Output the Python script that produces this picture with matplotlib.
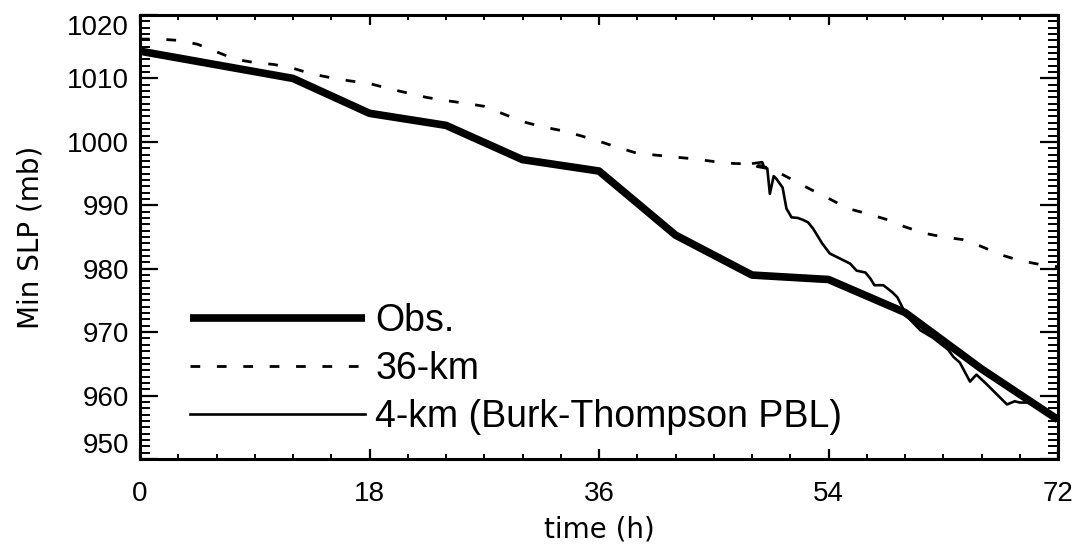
import matplotlib
matplotlib.use("Agg")
import matplotlib.pyplot as plt
from matplotlib.ticker import MultipleLocator

plt.rcParams['font.family'] = ['Liberation Sans', 'DejaVu Sans']

# Observed minimum SLP
obs_t = [0, 12, 18, 24, 30, 36, 42, 48, 54, 60, 66, 72]
obs_p = [1014.3, 1010.0, 1004.5, 1002.6, 997.2, 995.4, 985.3, 979.0, 978.3, 973.1, 964.2, 956.2]

# 36-km simulation
km36_t = [0, 1.5, 3, 4.5, 6, 7.5, 9, 10.5, 12, 13.5, 15, 16.5, 18, 19.5, 21, 22.5,
          24, 25.5, 27, 28.5, 30, 31.5, 33, 34.5, 36, 37.5, 39, 40.5, 42, 43.5,
          45, 46.5, 48, 49.5, 51, 52.5, 54, 55.5, 57, 58.5, 60, 61.5, 63, 64.5,
          66, 67.5, 69, 70.5, 72]
km36_p = [1016.2, 1016.2, 1016.0, 1015.4, 1014.2, 1013.0, 1012.5, 1012.2, 1011.6,
          1010.7, 1010.1, 1009.6, 1009.2, 1008.4, 1007.7, 1007.0, 1006.5, 1006.1,
          1005.6, 1004.4, 1003.2, 1002.4, 1001.8, 1001.0, 1000.1, 999.1, 998.2,
          997.9, 997.6, 997.3, 996.9, 996.6, 996.5, 995.8, 994.2, 992.6, 991.1,
          989.5, 988.7, 987.8, 986.6, 985.6, 985.0, 984.6, 983.5, 982.2, 981.3,
          980.7, 980.3]

# 4-km simulation (Burk-Thompson PBL)
km4_t = [48.1, 48.8, 48.9, 48.4, 49.2, 49.4, 49.7, 49.9, 50.4, 50.7, 51.1, 51.6,
         52.0, 52.4, 52.8, 53.5, 54.1, 54.9, 55.7, 56.2, 56.9, 57.3, 57.6, 58.3,
         59.0, 59.4, 59.8, 60.1, 61.2, 62.2, 63.4, 63.8, 64.3, 65.1, 65.6, 66.3,
         67.2, 68.0, 68.6, 69.0, 69.6, 70.4, 71.1, 72.0]
km4_p = [996.6, 996.8, 996.3, 996.1, 995.8, 991.8, 994.6, 994.2, 992.8, 989.5,
         988.1, 988.0, 987.7, 987.3, 986.3, 984.0, 982.4, 981.6, 980.8, 979.7,
         979.4, 978.4, 977.4, 977.4, 976.3, 975.5, 973.9, 972.6, 970.3, 969.1,
         967.2, 966.1, 965.2, 962.2, 963.3, 962.0, 960.2, 958.6, 959.1, 958.9,
         958.9, 958.3, 957.4, 956.4]

labels = ['Obs.', '36-km', '4-km (Burk-Thompson PBL)']
xticks = [0, 18, 36, 54, 72]
yticks = [950, 960, 970, 980, 990, 1000, 1010, 1020]

fig = plt.figure(figsize=(10.8, 5.5), dpi=100)
ax = fig.add_axes([140/1080, 1-459/550, 918/1080, 444/550])

ax.plot(obs_t, obs_p, color='black', lw=5.5, solid_capstyle='butt', label=labels[0])
ax.plot(km36_t, km36_p, color='black', lw=2.0, linestyle=(0, (3.5, 6)), label=labels[1])
ax.plot(km4_t, km4_p, color='black', lw=1.9, label=labels[2])

ax.set_xlim(0, 72)
ax.set_ylim(950, 1020)
ax.set_xticks(xticks)
ax.set_yticks(yticks)
ax.xaxis.set_minor_locator(MultipleLocator(3))
ax.yaxis.set_minor_locator(MultipleLocator(1))

for s in ax.spines.values():
    s.set_linewidth(2.2)

ax.tick_params(axis='x', which='major', direction='in', length=7, width=1.6,
               top=True, bottom=True, labelsize=20, pad=16)
ax.tick_params(axis='x', which='minor', direction='in', length=3.6, width=1.4,
               top=True, bottom=True)
ax.tick_params(axis='y', which='major', direction='in', length=13, width=1.6,
               left=True, right=True, labelsize=20, pad=8)
ax.tick_params(axis='y', which='minor', direction='in', length=7, width=1.4,
               left=True, right=True)

ax.set_xlabel('time (h)', fontsize=20, family='DejaVu Sans', labelpad=6)
ax.set_ylabel('Min SLP (mb)', fontsize=20, family='DejaVu Sans', labelpad=16)

ylabs = ax.get_yticklabels()
ylabs[0].set_va('bottom')
ylabs[-1].set_va('top')

leg = ax.legend(loc='lower left', bbox_to_anchor=(0.0545, 0.054), frameon=False,
                fontsize=27, handlelength=4.67, handletextpad=0.27,
                labelspacing=0.32, borderpad=0, borderaxespad=0)

fig.savefig('out.png', dpi=100)
